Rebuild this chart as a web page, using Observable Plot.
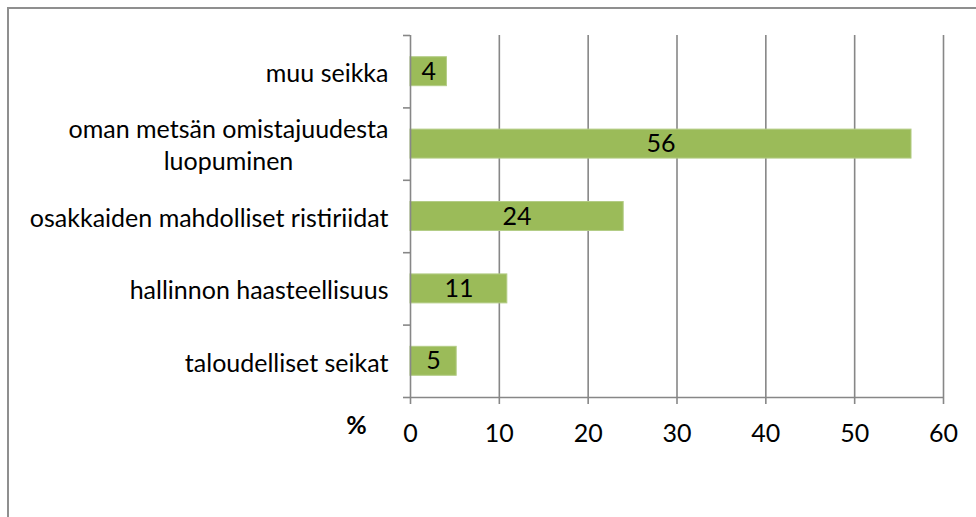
<!DOCTYPE html>
<html>
<head>
<meta charset="utf-8">
<script src="https://cdn.jsdelivr.net/npm/d3@7"></script>
<script src="https://cdn.jsdelivr.net/npm/@observablehq/plot@0.6"></script>
<style>
  html, body { margin: 0; padding: 0; background: #fff; overflow: hidden; }
  #wrap { position: relative; width: 976px; height: 517px; }
  #border { position: absolute; left: 7px; top: 7px; width: 1100px; height: 700px;
            border: 2px solid #8f8f8f; box-sizing: border-box; }
  #chart { position: absolute; left: 0; top: 0; }
  svg { font-family: Lato, "Open Sans", sans-serif; }
</style>
</head>
<body>
<div id="wrap">
  <div id="border"></div>
  <div id="chart"></div>
</div>
<script>
// Categories listed from bottom to top
const categories = [
  "taloudelliset seikat",
  "hallinnon haasteellisuus",
  "osakkaiden mahdolliset ristiriidat",
  "oman metsän omistajuudesta\nluopuminen",
  "muu seikka"
];
const values = [5.2, 10.9, 24.0, 56.4, 4.1];
const valueLabels = ["5", "11", "24", "56", "4"];
const xTicks = [0, 10, 20, 30, 40, 50, 60];

const data = categories.map((c, i) => ({
  category: c, index: i, value: values[i], label: valueLabels[i]
}));
const boundaries = d3.range(0, categories.length + 1);
const centers = data.map(d => d.index + 0.5);

const gray = "#878787";
const fs = 25;

const plot = Plot.plot({
  width: 976,
  height: 517,
  marginLeft: 410,
  marginRight: 33,
  marginTop: 35,
  marginBottom: 120,
  style: { fontSize: fs + "px", color: "#000", background: "transparent" },
  x: { domain: [0, 60] },
  y: { domain: [0, categories.length] },
  marks: [
    // vertical gridlines
    Plot.ruleX(xTicks.slice(1), { y1: 0, y2: categories.length, stroke: gray, strokeWidth: 1.6 }),
    // bars
    Plot.rectX(data, {
      x1: 0, x2: "value",
      y1: d => d.index + 0.3, y2: d => d.index + 0.7,
      fill: "#9BBB59", stroke: "#b3cc85", strokeWidth: 1
    }),
    // value labels
    Plot.text(data, {
      x: d => d.value / 2, y: d => d.index + 0.5, text: "label",
      fill: "#000", fontSize: fs
    }),
    // axis lines
    Plot.ruleX([0], { y1: 0, y2: categories.length, stroke: gray, strokeWidth: 1.6 }),
    Plot.ruleY([0], { stroke: gray, strokeWidth: 1.6 }),
    // x axis
    Plot.axisX({
      ticks: xTicks, tickSize: 7, tickPadding: 20, stroke: gray, strokeWidth: 1.6,
      tickFormat: d => String(d), label: null, fill: "#000", fontSize: fs
    }),
    // y axis boundary ticks
    Plot.axisY({ ticks: boundaries, tickSize: 7, stroke: gray, strokeWidth: 1.6, tickFormat: () => "", label: null }),
    // y category labels
    Plot.axisY({
      ticks: centers, tickSize: 0, tickPadding: 22, label: null,
      tickFormat: v => categories[Math.round(v - 0.5)], lineHeight: 1.28,
      fill: "#000", fontSize: fs
    }),
    // % label
    Plot.text(["%"], {
      frameAnchor: "bottom-left", text: d => d, dx: -54, dy: 36,
      fontWeight: "bold", fontSize: fs, fill: "#000", textAnchor: "middle"
    })
  ]
});
document.getElementById("chart").appendChild(plot);

// center multi-line category labels, block right-aligned as in the original
plot.querySelectorAll("text").forEach(t => {
  const spans = t.querySelectorAll("tspan");
  if (spans.length > 1) {
    const w = t.getBBox().width;
    t.setAttribute("text-anchor", "middle");
    spans.forEach(s => s.setAttribute("x", -w / 2));
  }
});
</script>
</body>
</html>
